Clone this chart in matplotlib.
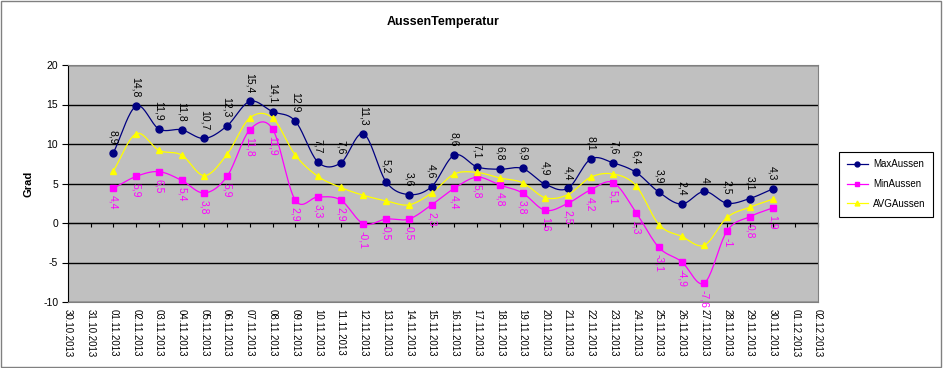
import numpy as np
import matplotlib
matplotlib.use("Agg")
from matplotlib import pyplot as plt

plt.rcParams['font.family'] = ['Liberation Sans', 'DejaVu Sans']

# Categories (date axis from 30.10.2013 to 02.12.2013)
dates = ['30.10.2013', '31.10.2013'] + \
    ['%02d.11.2013' % d for d in range(1, 31)] + \
    ['01.12.2013', '02.12.2013']

# Series values for 01.11 .. 30.11
max_aussen = [8.9, 14.8, 11.9, 11.8, 10.7, 12.3, 15.4, 14.1, 12.9, 7.7,
              7.6, 11.3, 5.2, 3.6, 4.6, 8.6, 7.1, 6.8, 6.9, 4.9,
              4.4, 8.1, 7.6, 6.4, 3.9, 2.4, 4.0, 2.5, 3.1, 4.3]
min_aussen = [4.4, 5.9, 6.5, 5.4, 3.8, 5.9, 11.8, 11.9, 2.9, 3.3,
              2.9, -0.1, 0.5, 0.5, 2.3, 4.4, 5.8, 4.8, 3.8, 1.6,
              2.5, 4.2, 5.1, 1.3, -3.1, -4.9, -7.6, -1.0, 0.8, 1.9]
avg_aussen = [6.6, 11.3, 9.2, 8.6, 6.0, 8.7, 13.3, 13.3, 8.6, 5.9,
              4.5, 3.5, 2.8, 2.3, 3.8, 6.2, 6.4, 5.7, 5.1, 3.2,
              3.6, 5.8, 6.2, 4.7, -0.2, -1.7, -2.8, 0.7, 2.0, 3.0]

x_all = np.arange(len(dates))
x = x_all[2:32]


def smooth(xs, ys, n=20):
    # Catmull-Rom style curve through the points (Excel "smoothed line")
    xs = np.asarray(xs, float)
    ys = np.asarray(ys, float)
    px = np.concatenate([[2 * xs[0] - xs[1]], xs, [2 * xs[-1] - xs[-2]]])
    py = np.concatenate([[2 * ys[0] - ys[1]], ys, [2 * ys[-1] - ys[-2]]])
    outx, outy = [], []
    t = np.linspace(0, 1, n, endpoint=False)
    for i in range(1, len(px) - 2):
        for P, out in ((px, outx), (py, outy)):
            p0, p1, p2, p3 = P[i - 1], P[i], P[i + 1], P[i + 2]
            out.extend(0.5 * ((2 * p1) + (-p0 + p2) * t +
                              (2 * p0 - 5 * p1 + 4 * p2 - p3) * t ** 2 +
                              (-p0 + 3 * p1 - 3 * p2 + p3) * t ** 3))
    outx.append(xs[-1])
    outy.append(ys[-1])
    return outx, outy


fig = plt.figure(figsize=(9.43, 3.68), dpi=100)
ax = fig.add_axes([68 / 943, 66 / 368, 750 / 943, 237 / 368])
ax.set_facecolor('#c0c0c0')

series = [
    (max_aussen, '#000080', 'o', 'MaxAussen', 5.0),
    (min_aussen, '#ff00ff', 's', 'MinAussen', 5.0),
    (avg_aussen, '#ffff00', '^', 'AVGAussen', 5.0),
]
handles = []
for vals, color, marker, name, ms in series:
    sx, sy = smooth(x, vals)
    ax.plot(sx, sy, color=color, linewidth=0.9, zorder=3)
    ax.plot(x, vals, linestyle='none', marker=marker, color=color,
            markersize=ms, zorder=4)
    h, = ax.plot([], [], color=color, marker=marker, markersize=3.5,
                 linewidth=0.9, label=name)
    handles.append(h)

# Data labels
for xi, v in zip(x, max_aussen):
    ax.annotate(('%g' % v).replace('.', ','), (xi, v), xytext=(0, 6),
                textcoords='offset points', rotation=270, ha='center',
                va='bottom', fontsize=7.5, color='black', zorder=5)
for xi, v in zip(x, min_aussen):
    ax.annotate(('%g' % v).replace('.', ','), (xi, v), xytext=(0, -5),
                textcoords='offset points', rotation=270, ha='center',
                va='top', fontsize=7.5, color='#ff00ff', zorder=5)

ax.set_xlim(0, len(dates) - 1)
ax.set_ylim(-10, 20)
ax.set_yticks(range(-10, 21, 5))
ax.set_yticklabels([str(v) for v in range(-10, 21, 5)], fontsize=7.5)
ax.grid(axis='y', color='black', linewidth=1.0)
ax.set_axisbelow(True)

ax.set_xticks(x_all)
ax.set_xticklabels(dates, rotation=270, fontsize=7)
ax.tick_params(axis='x', length=0, pad=5)
ax.tick_params(axis='y', length=4, direction='out', pad=3)

for side in ['top', 'right', 'bottom']:
    ax.spines[side].set_color('#808080')
ax.spines['left'].set_color('black')

# Category axis crossing at y = 0 with its tick marks
sec = ax.secondary_xaxis(1 / 3)
sec.set_xticks(x_all)
sec.set_xticklabels([])
sec.tick_params(axis='x', length=3, direction='out', color='black')
sec.spines['bottom'].set_color('black')

ax.set_ylabel('Grad', fontsize=8, fontweight='bold', labelpad=7)
fig.text(443 / 943, 1 - 22 / 368, 'AussenTemperatur', ha='center',
         va='center', fontsize=9, fontweight='bold')

leg = fig.legend(handles=handles, loc='center left',
                 bbox_to_anchor=(834 / 943, 1 - 184 / 368), fontsize=7,
                 frameon=True, fancybox=False, edgecolor='black',
                 framealpha=1, handlelength=2.2, handletextpad=0.5,
                 borderpad=0.8, labelspacing=1.0)
leg.get_frame().set_linewidth(0.8)

# outer frame
fig.patches.append(plt.Rectangle((0.001, 0.002), 0.997, 0.996,
                                 transform=fig.transFigure, fill=False,
                                 edgecolor='#808080', linewidth=1))

fig.savefig('out.png', dpi=100)
